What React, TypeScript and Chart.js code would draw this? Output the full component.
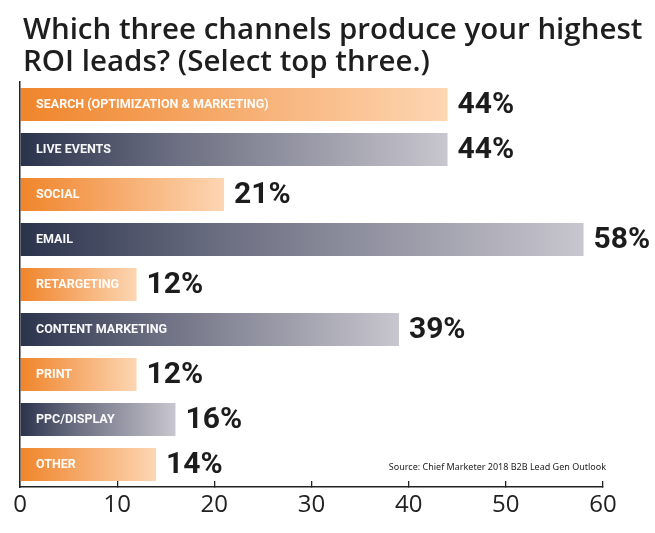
import React, { useEffect, useRef } from "react";
import { Chart, registerables } from "chart.js";

Chart.register(...registerables);

const titleLines = [
  "Which three channels produce your highest",
  "ROI leads? (Select top three.)",
];
const categories = [
  "SEARCH (OPTIMIZATION & MARKETING)",
  "LIVE EVENTS",
  "SOCIAL",
  "EMAIL",
  "RETARGETING",
  "CONTENT MARKETING",
  "PRINT",
  "PPC/DISPLAY",
  "OTHER",
];
const values = [44, 44, 21, 58, 12, 39, 12, 16, 14];
const xTicks = [0, 10, 20, 30, 40, 50, 60];
const sourceText = "Source: Chief Marketer 2018 B2B Lead Gen Outlook";

const ORANGE = ["#F0852A", "#F4A05A", "#FDD6B3"];
const NAVY = ["#2A334C", "#6A6D80", "#C8C6CE"];

const valueLabels = {
  id: "valueLabels",
  afterDatasetsDraw(chart: any) {
    const ctx = chart.ctx;
    const meta = chart.getDatasetMeta(0);
    ctx.save();
    ctx.font = "bold 30px Roboto, 'Liberation Sans', sans-serif";
    ctx.fillStyle = "#1c1c1c";
    ctx.textAlign = "left";
    ctx.textBaseline = "middle";
    meta.data.forEach((el: any, i: number) => {
      ctx.fillText(values[i] + "%", el.x + 10, el.y + 1);
    });
    ctx.restore();
  },
};

const sourcePlugin = {
  id: "sourceNote",
  afterDraw(chart: any) {
    const ctx = chart.ctx;
    const xs = chart.scales.x;
    const ys = chart.scales.y;
    ctx.save();
    ctx.font = "9px 'Noto Sans', sans-serif";
    ctx.fillStyle = "#222";
    ctx.textAlign = "right";
    ctx.textBaseline = "middle";
    ctx.fillText(
      sourceText,
      xs.getPixelForValue(60) + 3,
      ys.getPixelForValue(categories.length - 1) + 3
    );
    ctx.restore();
  },
};

// let the title run wider than the plot area, as in the reference
const titleBox = {
  id: "titleBox",
  afterLayout(chart: any) {
    const t = chart.titleBlock;
    if (t) {
      t.left = 23;
      t.right = chart.width - 2;
      t.width = t.right - t.left;
    }
  },
};

export default function App() {
  const ref = useRef<HTMLCanvasElement>(null);
  useEffect(() => {
    if (!ref.current) return;
    const chart = new Chart(ref.current, {
      type: "bar",
      data: {
        labels: categories,
        datasets: [
          {
            data: values,
            backgroundColor: (c: any) => {
              const cols = c.dataIndex % 2 === 0 ? ORANGE : NAVY;
              const chart = c.chart;
              if (!chart.chartArea || c.raw == null) return cols[0];
              const xs = chart.scales.x;
              const x0 = xs.getPixelForValue(0);
              const x1 = xs.getPixelForValue(c.raw);
              const g = chart.ctx.createLinearGradient(x0, 0, x1, 0);
              g.addColorStop(0, cols[0]);
              g.addColorStop(0.35, cols[1]);
              g.addColorStop(1, cols[2]);
              return g;
            },
            borderWidth: 0,
            categoryPercentage: 1,
            barPercentage: 0.735,
          },
        ],
      },
      options: {
        indexAxis: "y",
        responsive: false,
        animation: false,
        maintainAspectRatio: false,
        layout: { padding: { left: 20, right: 52, top: 0, bottom: 0 } },
        plugins: {
          legend: { display: false },
          tooltip: { enabled: false },
          title: {
            display: true,
            text: titleLines,
            align: "start",
            color: "#1e1e1e",
            font: { family: "'Open Sans', 'Noto Sans', sans-serif", size: 29.5, weight: "600", lineHeight: 32 / 29.5 },
            padding: { top: 15, bottom: 3 },
          },
        },
        scales: {
          x: {
            type: "linear",
            min: 0,
            max: 60,
            afterFit: (s: any) => {
              s.height = 46;
            },
            afterBuildTicks: (s: any) => {
              s.ticks = xTicks.map((v) => ({ value: v }));
            },
            grid: {
              display: true,
              drawOnChartArea: false,
              drawTicks: true,
              tickLength: -6,
              color: "#222",
              lineWidth: 1.3,
            },
            border: { display: true, color: "#222", width: 1.5 },
            ticks: {
              color: "#222",
              padding: 10,
              font: { family: "'Open Sans', 'Noto Sans', sans-serif", size: 24 },
            },
          },
          y: {
            type: "category",
            afterFit: (s: any) => {
              s.width = 0;
            },
            grid: { display: false },
            border: { display: true, color: "#222", width: 1.5, z: 2 },
            ticks: {
              z: 2,
              mirror: true,
              padding: 16,
              autoSkip: false,
              color: "rgba(255,255,255,0.96)",
              font: { family: "Roboto, 'Liberation Sans', sans-serif", size: 12.5, weight: "bold" },
            },
          },
        },
      },
      plugins: [valueLabels, sourcePlugin, titleBox],
    } as any);
    return () => chart.destroy();
  }, []);
  return (
    <div style={{ position: "absolute", left: 0, top: 0, width: 655, height: 533, background: "#fff" }}>
      <canvas ref={ref} width={655} height={533} style={{ display: "block", width: 655, height: 533 }} />
    </div>
  );
}
